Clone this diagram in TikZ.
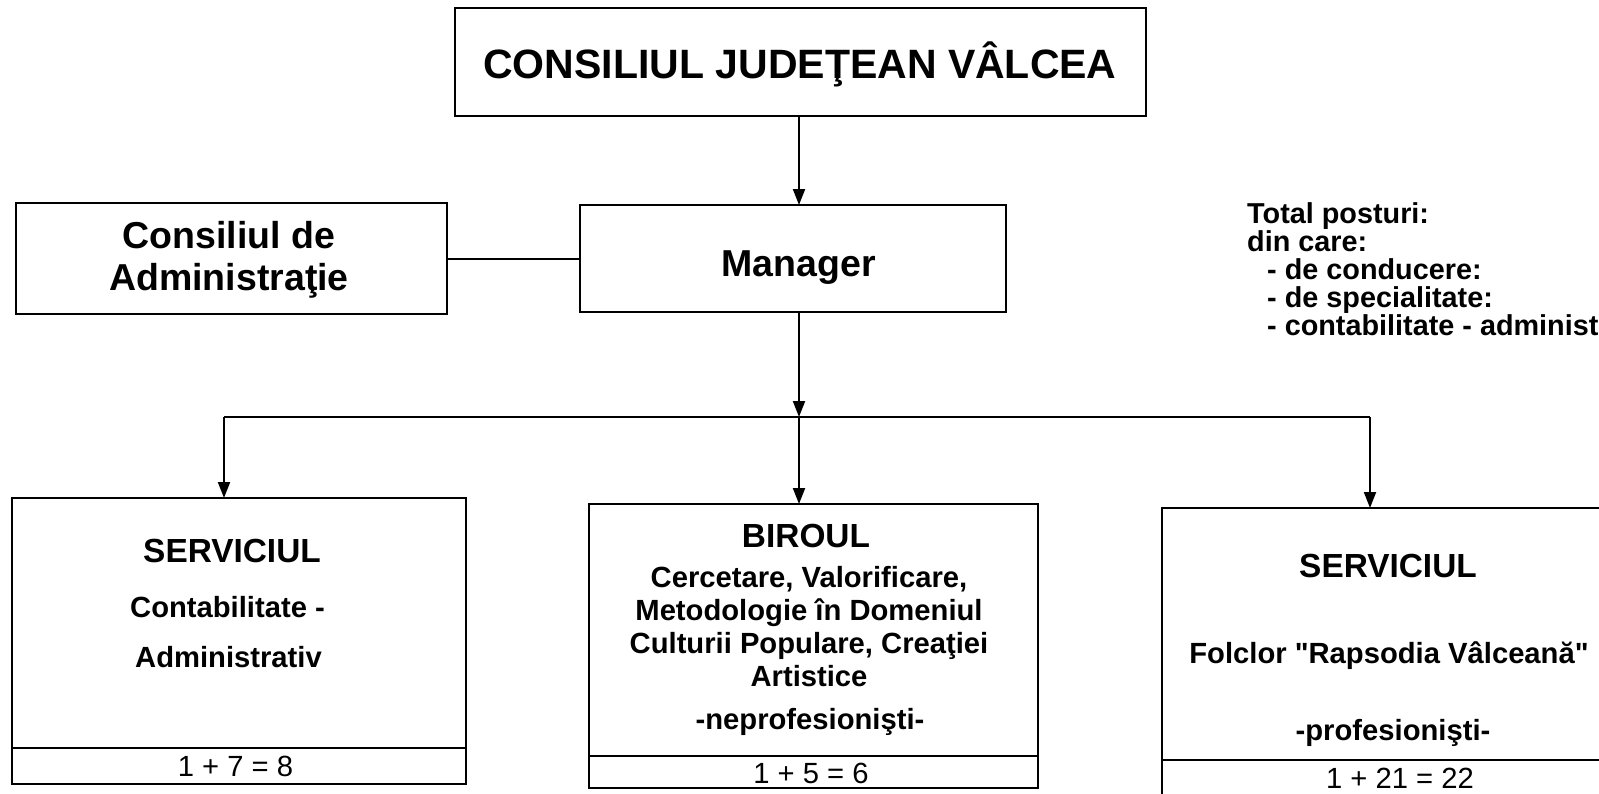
\documentclass[tikz,border=0pt]{standalone}
\usepackage{fontspec}
\setmainfont{Liberation Sans}[Ligatures=TeXOff]
\usetikzlibrary{arrows.meta}
\begin{document}
\begin{tikzpicture}[x=1pt,y=-1pt,
  box/.style={draw, line width=2.5pt, inner sep=0pt, outer sep=0pt},
  ln/.style={line width=2pt},
  arr/.style={line width=2pt, -{Triangle[length=16pt,width=12pt]}},
  ttl/.style={anchor=base, inner sep=0pt, font=\bfseries\fontsize{41}{46}\selectfont},
  mgrf/.style={anchor=base, inner sep=0pt, font=\bfseries\fontsize{37.5}{42}\selectfont},
  caf/.style={anchor=base, inner sep=0pt, font=\bfseries\fontsize{37.5}{42}\selectfont},
  head/.style={anchor=base, inner sep=0pt, font=\bfseries\fontsize{33.4}{38}\selectfont},
  body/.style={anchor=base, inner sep=0pt, font=\bfseries\fontsize{29.2}{33}\selectfont},
  num/.style={anchor=base, inner sep=0pt, font=\fontsize{29.2}{33}\selectfont},
  tot/.style={anchor=base west, inner sep=0pt, font=\bfseries\fontsize{28.8}{33}\selectfont}]
\useasboundingbox (0,0) rectangle (1599,793);
\fill[white] (0,0) rectangle (1599,793);
\clip (0,0) rectangle (1599,793);

% boxes
\node[box, minimum width=691pt, minimum height=108pt] (top) at (800.5,62) {};
\node[box, minimum width=431pt, minimum height=111pt] (ca) at (231.5,258.5) {};
\node[box, minimum width=426pt, minimum height=107pt] (mgr) at (793,258.5) {};
\node[box, minimum width=454pt, minimum height=286pt] (s1) at (239,641) {};
\node[box, minimum width=449pt, minimum height=284pt] (s2) at (813.5,646) {};
\node[box, minimum width=456pt, minimum height=292pt] (s3) at (1390,654) {};

% dividers
\draw[box] (s1.west |- 0,748) -- (s1.east |- 0,748);
\draw[box] (s2.west |- 0,756) -- (s2.east |- 0,756);
\draw[box] (s3.west |- 0,760) -- (s3.east |- 0,760);

% texts
\node[ttl] (t0) at (800,78) {CONSILIUL JUDEŢEAN VÂLCEA};
\node[caf] (ca1) at (229,248) {Consiliul de};
\node[caf] (ca2) at (229,290) {Administraţie};
\node[mgrf] (m1) at (798.5,276) {Manager};

\node[head] (l1) at (232,562) {SERVICIUL};
\node[body] (l2) at (227.5,617) {Contabilitate -};
\node[body] (l3) at (228.5,667) {Administrativ};
\node[num]  (l4) at (235.5,776) {1 + 7 = 8};

\node[head] (c1) at (806,547) {BIROUL};
\node[body] (c2) at (809,587) {Cercetare, Valorificare,};
\node[body] (c3) at (809,620) {Metodologie în Domeniul};
\node[body] (c4) at (809,653) {Culturii Populare, Creaţiei};
\node[body] (c5) at (809,686) {Artistice};
\node[body] (c6) at (810,729) {-neprofesionişti-};
\node[num]  (c7) at (811,783) {1 + 5 = 6};

\node[head] (r1) at (1388,577) {SERVICIUL};
\node[body] (r2) at (1389,663) {Folclor "Rapsodia Vâlceană"};
\node[body] (r3) at (1393,740) {-profesionişti-};
\node[num]  (r4) at (1400,788) {1 + 21 = 22};

\node[tot] (p1) at (1247,223) {Total posturi:};
\node[tot] (p2) at (1247,251) {din care:};
\node[tot] (p3) at (1267,279) {- de conducere:};
\node[tot] (p4) at (1267,307) {- de specialitate:};
\node[tot] (p5) at (1267,335) {- contabilitate - administrativ:};

% connectors
\coordinate (bus) at (799,417);
\coordinate (bl) at (224,417);
\coordinate (br) at (1370,417);
\draw[arr] (top.south -| bus) -- (mgr.north -| bus);
\draw[ln] (ca.east) -- (ca.east -| mgr.west);
\draw[arr] (mgr.south -| bus) -- (bus);
\draw[ln] (bl) -- (br);
\draw[arr] (bl) -- (bl |- s1.north);
\draw[arr] (bus) -- (bus |- s2.north);
\draw[arr] (br) -- (br |- s3.north);
\end{tikzpicture}
\end{document}
